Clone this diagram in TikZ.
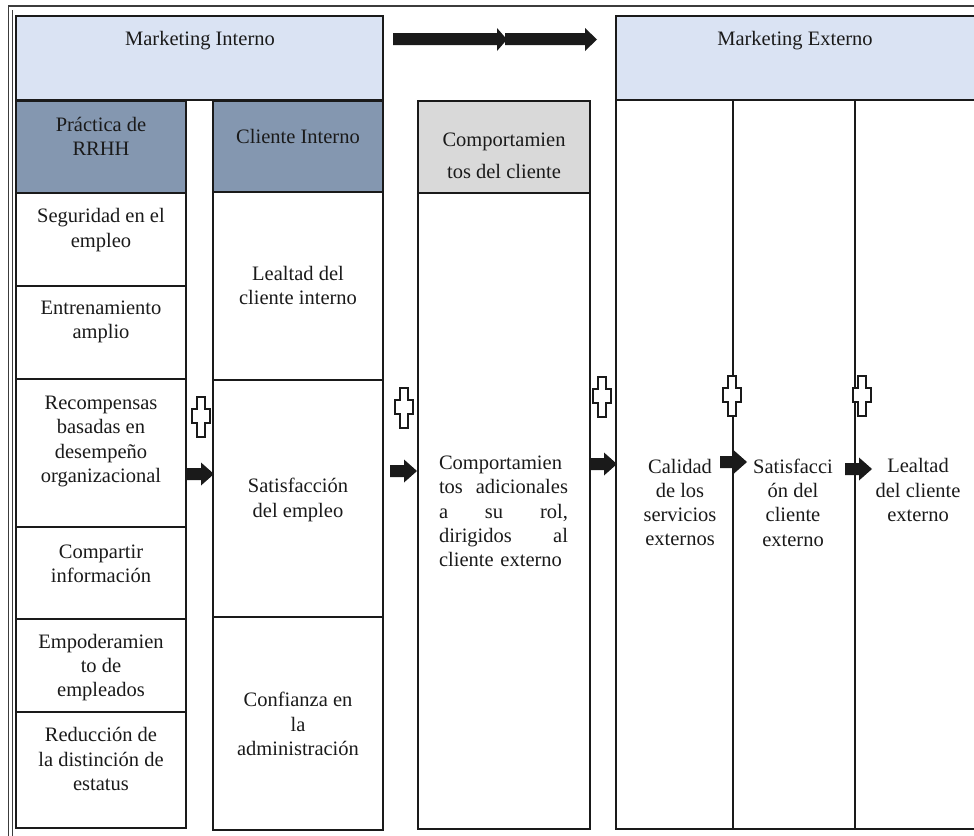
\documentclass[tikz,border=0pt]{standalone}
\usepackage{fontspec}
\setmainfont{Liberation Serif}
\definecolor{mblue}{HTML}{DAE3F3}
\definecolor{hblue}{HTML}{8497B0}
\definecolor{hgray}{HTML}{D9D9D9}
\definecolor{ink}{HTML}{1A1A1A}
\newcommand{\jline}[1]{\leavevmode\hbox to 129pt{#1}}
\tikzset{
  cell/.style={draw=ink, line width=1.6pt},
  txt/.style={text=ink, font=\fontsize{20.5}{24.3}\selectfont, align=center, inner sep=0pt},
  crossmark/.pic={\draw[draw=ink, line width=1.4pt, fill=white]
     (-4,-20) -- (4,-20) -- (4,-8) -- (9,-8) -- (9,6) -- (4,6) -- (4,20) -- (-4,20)
     -- (-4,6) -- (-9,6) -- (-9,-8) -- (-4,-8) -- cycle;},
  blockarrow/.pic={\fill[ink] (0,-6) -- (14,-6) -- (14,-11.5) -- (27,0) -- (14,11.5)
     -- (14,6) -- (0,6) -- cycle;}
}
\begin{document}
\begin{tikzpicture}[x=1pt,y=-1pt]
\useasboundingbox (0,0) rectangle (974,835);
\fill[white] (0,0) rectangle (974,835);
\clip (0,0) rectangle (974,835);

% outer frame
\draw[ink!85, line width=1.3pt] (8.5,845) -- (8.5,6) -- (990,6);
\draw[ink!85, line width=1.1pt] (12.5,845) -- (12.5,10);

% Marketing Interno
\draw[cell, fill=mblue] (16,16) rectangle (383,100);
\node[txt] (mi) at (200,41) {Marketing Interno};

% headers
\draw[cell, fill=hblue] (16,101) rectangle (186,193);
\node[txt] (rrhh) at (101,136.5) {Práctica de\\RRHH};
\draw[cell, fill=hblue] (213,101) rectangle (383,192);
\node[txt] (ci) at (298,136) {Cliente Interno};

% left column cells
\draw[cell] (16,193) rectangle (186,286);
\draw[cell] (16,286) rectangle (186,379);
\draw[cell] (16,379) rectangle (186,527);
\draw[cell] (16,527) rectangle (186,619);
\draw[cell] (16,619) rectangle (186,712);
\draw[cell] (16,712) rectangle (186,828);
\node[txt] (seg) at (101,230) {Seguridad en el\\empleo};
\node[txt] (ent) at (101,322) {Entrenamiento\\amplio};
\node[txt] (rec) at (101,441.5) {Recompensas\\basadas en\\desempeño\\organizacional};
\node[txt] (com) at (101,563.5) {Compartir\\información};
\node[txt] (emp) at (101,667.5) {Empoderamien\\to de\\empleados};
\node[txt] (red) at (101,759) {Reducción de\\la distinción de\\estatus};

% right column cells
\draw[cell] (213,192) rectangle (383,380);
\draw[cell] (213,380) rectangle (383,617);
\draw[cell] (213,617) rectangle (383,830);
\node[txt] (lci) at (298,285.5) {Lealtad del\\cliente interno};
\node[txt] (sat) at (298,500) {Satisfacción\\del empleo};
\node[txt] (conf) at (298,724) {Confianza en\\la\\administración};

% Comportamientos
\draw[cell, fill=hgray] (418,101) rectangle (590,193);
\node[txt, font=\fontsize{20.5}{32}\selectfont] (cch) at (504,156) {Comportamien\\tos del cliente};
\draw[cell] (418,193) rectangle (590,829);
\node[txt, align=left, text width=129pt] (ccb) at (503.5,511.5)
  {Comportamien\\\jline{tos\hfill adicionales}\\\jline{a\hfill su\hfill rol,}\\\jline{dirigidos\hfill al}\\cliente externo};

% Marketing Externo
\draw[cell, fill=mblue] (616,16) rectangle (990,100);
\node[txt] (me) at (795,41) {Marketing Externo};
\draw[cell] (616,100) rectangle (990,829);
\draw[cell] (733,100) -- (733,829);
\draw[cell] (855,100) -- (855,829);
\node[txt] (cal) at (680,502.5) {Calidad\\de los\\servicios\\externos};
\node[txt] (sce) at (793,502.5) {Satisfacci\\ón del\\cliente\\externo};
\node[txt] (lce) at (918,490) {Lealtad\\del cliente\\externo};

% top big arrow
\fill[ink] (393,33) -- (497,33) -- (497,28) -- (507,39.5) -- (497,51) -- (497,45) -- (393,45) -- cycle;
\fill[ink] (505,33) -- (585,33) -- (585,28) -- (597,39.5) -- (585,51) -- (585,45) -- (505,45) -- cycle;

% plus marks
\pic at (201,417) {crossmark};
\pic at (404,408) {crossmark};
\pic at (602,397) {crossmark};
\pic at (732,396) {crossmark};
\pic at (862,396) {crossmark};

% block arrows
\pic at (187,474) {blockarrow};
\pic at (390,471) {blockarrow};
\pic at (590,464) {blockarrow};
\pic at (720,462) {blockarrow};
\pic at (845,469) {blockarrow};
\end{tikzpicture}
\end{document}
